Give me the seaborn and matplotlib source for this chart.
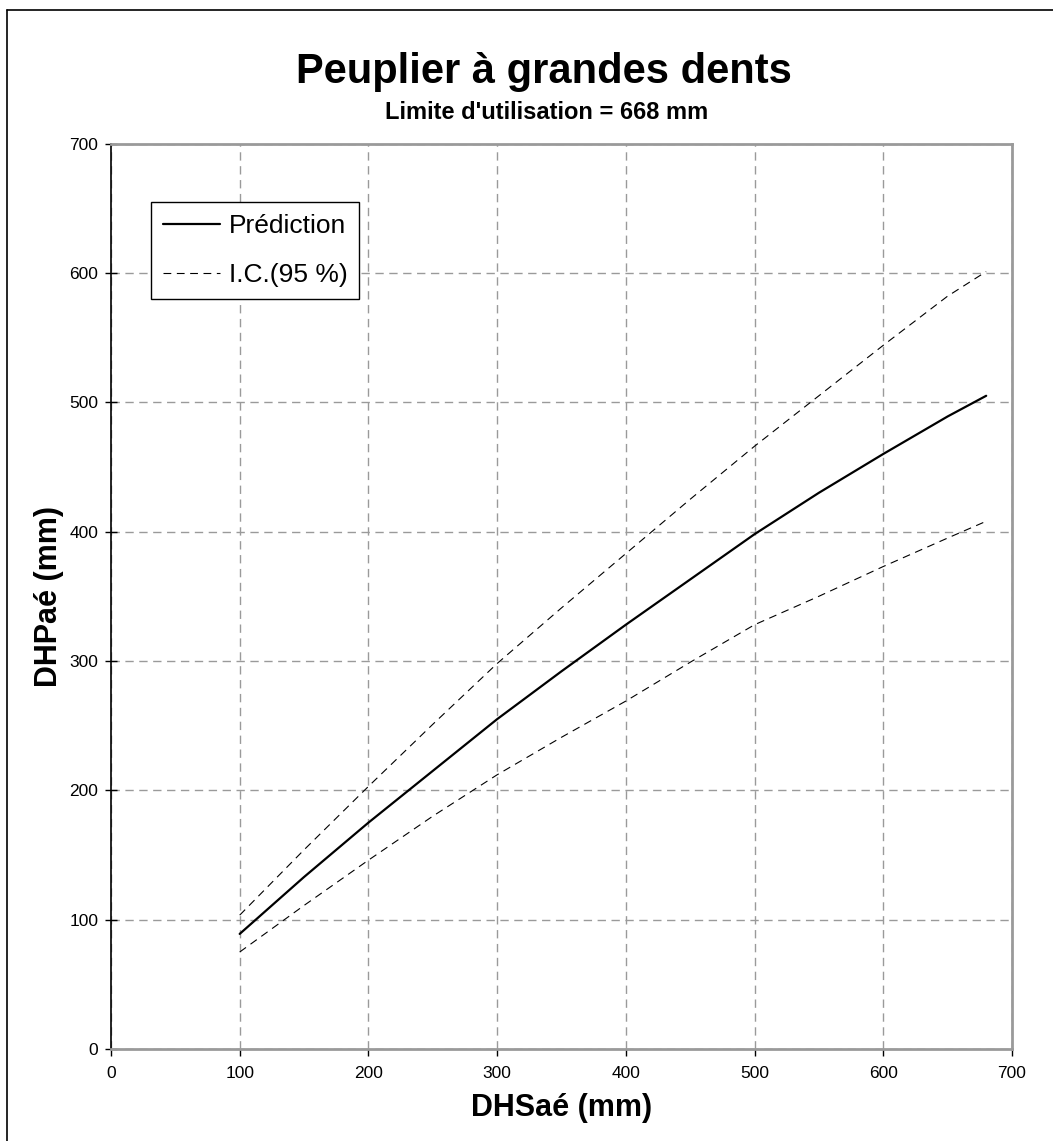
import numpy as np
import pandas as pd
import matplotlib
matplotlib.use("Agg")
import matplotlib.pyplot as plt
from matplotlib.lines import Line2D
import seaborn as sns

# DHS (mm) at which the model is evaluated
dhs = [100, 150, 200, 250, 300, 350, 400, 450, 500, 550, 600, 650, 680]
# Predicted DHP (mm)
prediction = [89, 133, 175, 215, 255, 292, 328, 363, 398, 430, 460, 489, 505]
# 95 % confidence interval bounds
ci_upper = [103.5, 154, 203, 251, 298, 341, 383, 425, 466, 505, 544, 582, 601]
ci_lower = [75, 111, 146, 180, 212, 241, 269, 299, 328, 350, 373, 395, 408]

x_ticks = [0, 100, 200, 300, 400, 500, 600, 700]
y_ticks = [0, 100, 200, 300, 400, 500, 600, 700]

sns.set_theme(style="white")
plt.rcParams["font.family"] = ["Liberation Sans", "DejaVu Sans"]
plt.rcParams["text.color"] = "black"
plt.rcParams["axes.labelcolor"] = "black"

fig = plt.figure(figsize=(10.53, 11.41), dpi=100)
ax = fig.add_axes([0.1054, 0.0806, 0.8556, 0.7936])

df = pd.DataFrame({"dhs": dhs, "pred": prediction, "up": ci_upper, "lo": ci_lower})

sns.lineplot(data=df, x="dhs", y="pred", ax=ax, color="black", lw=1.6,
             label="Prédiction", zorder=5)
sns.lineplot(data=df, x="dhs", y="up", ax=ax, color="black", lw=0.8,
             label="I.C.(95 %)", zorder=5)
sns.lineplot(data=df, x="dhs", y="lo", ax=ax, color="black", lw=0.8,
             label="_nolegend_", zorder=5)
for ln in ax.lines[1:]:
    ln.set_linestyle((0, (7, 5)))

ax.set_xlim(0, 700)
ax.set_ylim(0, 700)
ax.set_xticks(x_ticks)
ax.set_yticks(y_ticks)
ax.tick_params(axis="both", labelsize=12.5, colors="black", length=8,
               width=1, direction="inout", pad=5)
ax.tick_params(axis="x", direction="out", length=5, pad=7)
ax.tick_params(left=True, bottom=True)

ax.grid(True, color="#9a9a9a", linestyle=(0, (6, 4)), linewidth=1.0)
ax.set_axisbelow(True)

for side in ["top", "right", "bottom"]:
    ax.spines[side].set_color("#9a9a9a")
    ax.spines[side].set_linewidth(2.0)
ax.spines["left"].set_color("black")
ax.spines["left"].set_linewidth(1.2)

ax.set_xlabel("DHSaé (mm)", fontsize=22, fontweight="bold", labelpad=9)
ax.set_ylabel("DHPaé (mm)", fontsize=22, fontweight="bold", labelpad=4)

leg = ax.legend(loc="upper left", bbox_to_anchor=(0.0444, 0.9354),
                fontsize=19, frameon=True, fancybox=False, framealpha=1,
                edgecolor="black", handlelength=2.15, handletextpad=0.35,
                borderpad=0.45, labelspacing=0.95, borderaxespad=0)
leg.get_frame().set_linewidth(1.0)
leg.legend_handles[1].set_linestyle((0, (7, 5)))

fig.text(0.517, 0.9365, "Peuplier à grandes dents", ha="center", va="center",
         fontsize=30, fontweight="bold")
fig.text(0.519, 0.9010, "Limite d'utilisation = 668 mm", ha="center",
         va="center", fontsize=17, fontweight="bold")

# outer frame of the chart area
fig.add_artist(Line2D([7 / 1053, 7 / 1053], [0, 1 - 10 / 1141],
                      transform=fig.transFigure, color="black", lw=1.2))
fig.add_artist(Line2D([7 / 1053, 1], [1 - 10 / 1141, 1 - 10 / 1141],
                      transform=fig.transFigure, color="black", lw=1.2))

fig.savefig("out.png", dpi=100)
